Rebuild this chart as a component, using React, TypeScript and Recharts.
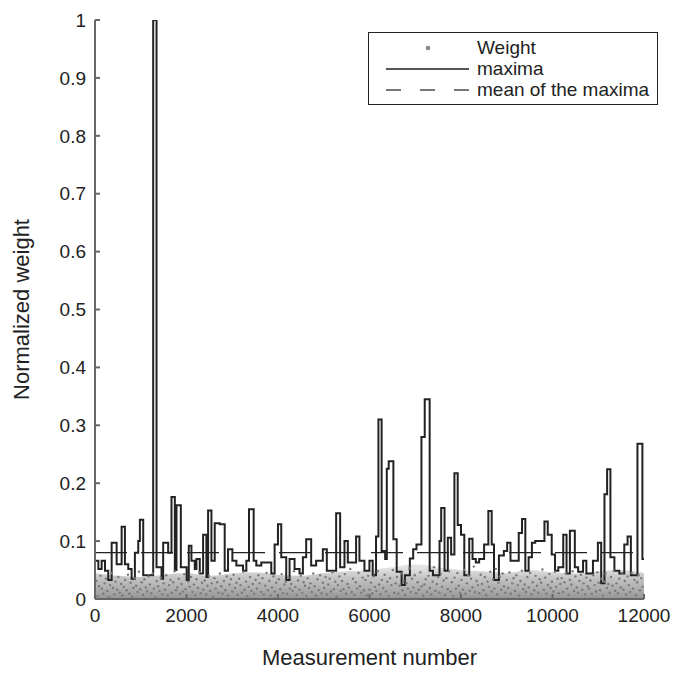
import React from "react";
import {
  ComposedChart,
  Line,
  Area,
  Scatter,
  XAxis,
  YAxis,
  ReferenceLine,
  Label,
} from "recharts";

const FONT = "'Liberation Sans', Arial, Helvetica, sans-serif";

// x-axis ticks and y-axis ticks
const xTicks = [0, 2000, 4000, 6000, 8000, 10000, 12000];
const yTicks = [0, 0.1, 0.2, 0.3, 0.4, 0.5, 0.6, 0.7, 0.8, 0.9, 1];

// individual weights (thousandths), one every 30 measurements
const weightStep = 30;
const weightValues = [
  12, 31, 5, 22, 40, 18, 9, 27, 35, 14, 3, 24, 45, 19, 8, 30, 16, 38, 11, 26,
  6, 21, 33, 15, 42, 9, 28, 4, 19, 36, 23, 12, 47, 17, 29, 7, 34, 20, 13, 39,
  25, 10, 44, 18, 3, 31, 22, 14, 37, 8, 27, 16, 41, 6, 24, 33, 11, 29, 48, 15,
  20, 35, 9, 26, 13, 43, 17, 5, 30, 21, 38, 12, 25, 7, 34, 19, 46, 10, 28, 16,
  32, 8, 23, 40, 14, 27, 4, 36, 18, 29, 11, 44, 22, 9, 31, 15, 39, 6, 25, 34,
  13, 42, 19, 28, 7, 35, 24, 11, 47, 16, 30, 5, 21, 38, 14, 26, 9, 33, 18, 41,
  27, 12, 36, 8, 23, 45, 15, 31, 6, 20, 39, 13, 28, 4, 34, 17, 43, 10, 25, 30,
  9, 37, 18, 26, 14, 48, 21, 7, 32, 16, 40, 11, 29, 23, 5, 36, 19, 27, 12, 44,
  22, 6, 34, 15, 41, 10, 28, 19, 38, 8, 25, 35, 13, 46, 17, 30, 4, 24, 39, 14,
  31, 17, 43, 9, 26, 20, 52, 12, 35, 7, 29, 18, 45, 22, 11, 37, 15, 33, 6, 40,
  16, 28, 10, 39, 21, 14, 48, 25, 8, 33, 19, 42, 13, 30, 5, 36, 24, 50, 11, 27,
  38, 9, 23, 44, 15, 31, 7, 27, 18, 53, 12, 35, 20, 41, 10, 29, 16, 46, 22, 6,
  25, 34, 12, 40, 19, 8, 30, 55, 14, 26, 38, 11, 43, 21, 32, 7, 36, 17, 48, 13,
  29, 5, 37, 18, 45, 23, 11, 33, 16, 50, 9, 27, 41, 14, 35, 20, 56, 12, 31, 24,
  10, 42, 26, 15, 38, 7, 30, 21, 47, 13, 34, 18, 52, 8, 28, 39, 16, 44, 22, 11,
  33, 19, 46, 9, 27, 36, 14, 41, 24, 6, 31, 49, 17, 25, 12, 38, 20, 45, 8, 29,
  15, 40, 23, 11, 34, 28, 51, 16, 37, 9, 24, 43, 19, 30, 13, 47, 21, 35, 10, 26,
  36, 12, 29, 44, 18, 7, 33, 25, 48, 14, 39, 20, 11, 31, 42, 16, 27, 8, 37, 22,
  18, 32, 9, 41, 24, 13, 46, 28, 15, 35, 6, 30, 44, 19, 26, 11, 38, 23, 49, 14,
  27, 10, 35, 20, 43, 16, 31, 8, 39, 24, 12, 45, 18, 33, 7, 29, 41, 15, 36, 21,
];

// upper edge of the dense cloud of weights, every 500 measurements
const bandStep = 500;
const bandTop = [
  0.045, 0.04, 0.038, 0.042, 0.045, 0.04, 0.044, 0.046, 0.042, 0.04, 0.045,
  0.048, 0.05, 0.055, 0.06, 0.055, 0.05, 0.048, 0.045, 0.05, 0.046, 0.044,
  0.048, 0.05, 0.045,
];

// maxima: step starts (measurement number) and levels
const maximaX = [
  0, 73, 145, 218, 290, 364, 473, 582, 654, 727, 800, 872, 945, 981, 1054,
  1272, 1345, 1454, 1490, 1599, 1672, 1745, 1781, 1876, 2003, 2050, 2108,
  2181, 2217, 2290, 2363, 2435, 2472, 2545, 2617, 2726, 2835, 2908, 3003,
  3090, 3235, 3308, 3366, 3468, 3526, 3635, 3853, 3926, 3999, 4071, 4180,
  4253, 4362, 4471, 4544, 4616, 4725, 4834, 4980, 5067, 5271, 5358, 5453,
  5526, 5707, 5780, 5889, 5998, 6070, 6143, 6195, 6265, 6342, 6378, 6420,
  6522, 6594, 6702, 6774, 6882, 6955, 7027, 7135, 7207, 7315, 7387, 7531,
  7567, 7640, 7712, 7784, 7856, 7928, 8000, 8072, 8180, 8252, 8324, 8397,
  8505, 8598, 8671, 8721, 8829, 8937, 9009, 9082, 9262, 9334, 9406, 9478,
  9550, 9622, 9824, 9896, 9983, 10055, 10127, 10235, 10307, 10380, 10488,
  10560, 10668, 10740, 10884, 10992, 11064, 11136, 11194, 11266, 11353,
  11461, 11569, 11641, 11713, 11857, 11965, 12000,
];
const maximaY = [
  0.066, 0.052, 0.066, 0.049, 0.033, 0.097, 0.06, 0.125, 0.06, 0.052, 0.035,
  0.08, 0.1, 0.137, 0.041, 1.0, 0.055, 0.035, 0.097, 0.08, 0.176, 0.05, 0.162,
  0.055, 0.033, 0.092, 0.066, 0.052, 0.069, 0.044, 0.111, 0.038, 0.153, 0.066,
  0.131, 0.129, 0.049, 0.086, 0.066, 0.058, 0.049, 0.066, 0.155, 0.066, 0.058,
  0.063, 0.044, 0.094, 0.129, 0.072, 0.033, 0.069, 0.052, 0.044, 0.072, 0.103,
  0.058, 0.066, 0.086, 0.049, 0.148, 0.055, 0.1, 0.063, 0.108, 0.066, 0.049,
  0.066, 0.041, 0.108, 0.31, 0.083, 0.069, 0.225, 0.238, 0.103, 0.047, 0.024,
  0.041, 0.07, 0.086, 0.094, 0.28, 0.345, 0.049, 0.041, 0.1, 0.157, 0.049,
  0.106, 0.077, 0.217, 0.128, 0.111, 0.041, 0.104, 0.069, 0.063, 0.069, 0.094,
  0.152, 0.094, 0.033, 0.075, 0.083, 0.097, 0.066, 0.114, 0.138, 0.049, 0.072,
  0.097, 0.1, 0.134, 0.111, 0.077, 0.049, 0.055, 0.111, 0.044, 0.118, 0.055,
  0.047, 0.066, 0.044, 0.066, 0.097, 0.027, 0.181, 0.224, 0.072, 0.049, 0.044,
  0.094, 0.108, 0.041, 0.268, 0.069, 0.069,
];

const meanOfMaxima = 0.08;

const legendItems = ["Weight", "maxima", "mean of the maxima"];

const weightData = weightValues.map((v, i) => ({ x: i * weightStep, y: v / 1000 }));
const bandData = bandTop.map((v, i) => ({ x: i * bandStep, y: v }));
const maximaData = maximaX.map((x, i) => ({ x, y: maximaY[i] }));

const WeightDot = (props: any) => (
  <circle cx={props.cx} cy={props.cy} r={1.2} fill="#7a7a7a" />
);

const LegendBox = () => (
  <div
    style={{
      position: "absolute",
      left: 368,
      top: 32,
      width: 290,
      height: 73,
      border: "1.5px solid #222",
      background: "#fff",
      fontFamily: FONT,
      fontSize: 19,
      color: "#222",
      boxSizing: "border-box",
      paddingTop: 4,
    }}
  >
    {legendItems.map((label, i) => (
      <div key={label} style={{ display: "flex", alignItems: "center", height: 21 }}>
        <svg width={108} height={12}>
          {i === 0 && <circle cx={59} cy={6} r={2.3} fill="#888" />}
          {i === 1 && (
            <line x1={17} x2={100} y1={6} y2={6} stroke="#555" strokeWidth={2} />
          )}
          {i === 2 && (
            <line
              x1={17}
              x2={100}
              y1={6}
              y2={6}
              stroke="#777"
              strokeWidth={2}
              strokeDasharray="15 19"
            />
          )}
        </svg>
        <span>{label}</span>
      </div>
    ))}
  </div>
);

export default function App() {
  const tickStyle = { fontSize: 19, fill: "#222", fontFamily: FONT };
  return (
    <div
      style={{
        position: "relative",
        margin: -8,
        width: 680,
        height: 675,
        background: "#fff",
        overflow: "hidden",
      }}
    >
      <ComposedChart
        width={680}
        height={675}
        margin={{ top: 20, right: 36, left: 0, bottom: 0 }}
      >
        <defs>
          <linearGradient id="weightBand" x1="0" y1="1" x2="0" y2="0">
            <stop offset="0%" stopColor="#959595" stopOpacity={1} />
            <stop offset="60%" stopColor="#bdbdbd" stopOpacity={0.9} />
            <stop offset="100%" stopColor="#dadada" stopOpacity={0.6} />
          </linearGradient>
        </defs>
        <XAxis
          type="number"
          dataKey="x"
          domain={[0, 12000]}
          ticks={xTicks}
          height={76}
          tickSize={-5}
          tickMargin={15}
          tick={tickStyle}
          stroke="#666"
          strokeWidth={2}
          allowDataOverflow
        >
          <Label
            value="Measurement number"
            position="insideBottom"
            offset={10}
            style={{ fontSize: 22, fill: "#222", fontFamily: FONT }}
          />
        </XAxis>
        <YAxis
          type="number"
          dataKey="y"
          domain={[0, 1]}
          ticks={yTicks}
          width={95}
          tickSize={-5}
          tickMargin={14}
          tick={tickStyle}
          stroke="#666"
          strokeWidth={2}
          tickFormatter={(v: number) =>
            v === 0 || v === 1 ? String(v) : v.toFixed(1)
          }
          allowDataOverflow
        >
          <Label
            value="Normalized weight"
            angle={-90}
            position="insideLeft"
            offset={21}
            style={{ fontSize: 22, fill: "#222", fontFamily: FONT, textAnchor: "middle" }}
          />
        </YAxis>
        <Area
          data={bandData}
          dataKey="y"
          type="monotone"
          stroke="none"
          fill="url(#weightBand)"
          fillOpacity={1}
          isAnimationActive={false}
          legendType="none"
        />
        <Scatter
          data={weightData}
          dataKey="y"
          shape={WeightDot}
          isAnimationActive={false}
          legendType="none"
        />
        <ReferenceLine
          y={meanOfMaxima}
          stroke="#222"
          strokeWidth={1.3}
          strokeDasharray="32 14"
        />
        <Line
          data={maximaData}
          dataKey="y"
          type="stepAfter"
          stroke="#222"
          strokeWidth={2}
          dot={false}
          isAnimationActive={false}
          legendType="none"
        />
      </ComposedChart>
      <LegendBox />
    </div>
  );
}
